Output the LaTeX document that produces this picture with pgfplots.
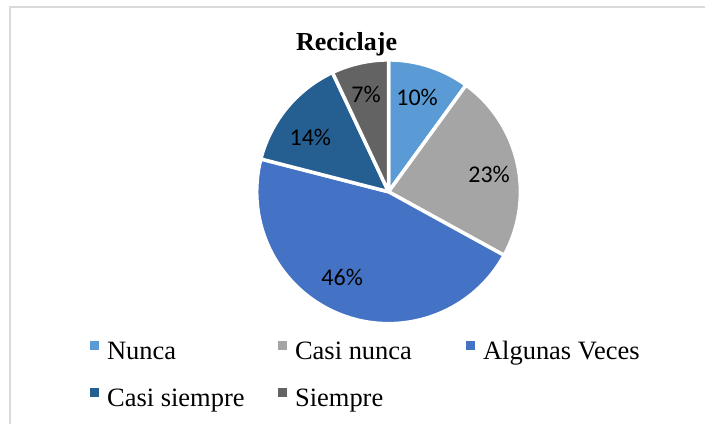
\documentclass[border=0pt]{standalone}
\usepackage{pgfplots}
\pgfplotsset{compat=1.18}
\usepackage{pgfplotstable}
\usetikzlibrary{calc}
\usepackage{fontspec}
\setmainfont{Liberation Serif}
\newfontfamily\labelfont{Carlito}
\definecolor{cNunca}{HTML}{5B9BD5}
\definecolor{cCasiNunca}{HTML}{A5A5A5}
\definecolor{cAlgunas}{HTML}{4472C4}
\definecolor{cCasiSiempre}{HTML}{255E91}
\definecolor{cSiempre}{HTML}{636363}
\definecolor{frame}{HTML}{D9D9D9}
% value = percentage; dx, dy = small label offsets (bp)
\pgfplotstableread[col sep=comma]{
cat,value,col,dx,dy
Nunca,10,cNunca,-2,0
Casi nunca,23,cCasiNunca,4,-4
Algunas Veces,46,cAlgunas,-10,6
Casi siempre,14,cCasiSiempre,-2,-9
Siempre,7,cSiempre,-1,1
}\piedata
\begin{document}
\begin{tikzpicture}
\def\cumval{0}
\begin{axis}[
  hide axis, scale only axis,
  width=706bp, height=424bp,
  xmin=0, xmax=706, ymin=0, ymax=424,
  clip=false,
  legend columns=3,
  legend cell align=left,
  legend image code/.code={\fill[#1, draw=none] (0bp,3bp) rectangle (9bp,12bp); \path (17bp,0bp);},
  legend style={draw=none, fill=none, inner sep=0pt, outer sep=0pt,
    font=\fontsize{26.5bp}{30bp}\selectfont,
    at={(axis description cs:0.1275,0.197)}, anchor=north west,
    column sep=0pt, row sep=21bp,
    nodes={inner sep=0pt, text height=19bp, text depth=7bp}},
]
\path (axis cs:0,0) (axis cs:706,424);
\draw[frame, line width=1.6bp] (axis cs:10,0) -- (axis cs:10,417) -- (axis cs:706,417);
\node[font=\fontsize{26bp}{30bp}\selectfont\bfseries, anchor=base] at (axis cs:347,373) {Reciclaje};
\pgfplotsforeachungrouped \i in {0,...,4}{%
  \pgfplotstablegetelem{\i}{value}\of\piedata
  \let\pval\pgfplotsretval
  \pgfplotstablegetelem{\i}{col}\of\piedata
  \let\pcol\pgfplotsretval
  \pgfplotstablegetelem{\i}{dx}\of\piedata
  \let\pdx\pgfplotsretval
  \pgfplotstablegetelem{\i}{dy}\of\piedata
  \let\pdy\pgfplotsretval
  \pgfmathsetmacro\sa{90-3.6*\cumval}%
  \pgfmathsetmacro\ea{\sa-3.6*\pval}%
  \pgfmathsetmacro\ma{(\sa+\ea)/2}%
  \pgfmathsetmacro\cumval{\cumval+\pval}%
  \edef\temp{%
    \noexpand\filldraw[fill=\pcol, draw=white, line width=3.5bp, line join=round]
      (axis cs:389,232) -- ++(\sa:132bp) arc[start angle=\sa, end angle=\ea, radius=132bp] -- cycle;
    \noexpand\node[font=\noexpand\labelfont\noexpand\fontsize{24bp}{28bp}\noexpand\selectfont, inner sep=0pt]
      at ($(axis cs:389,232)+(\ma:99bp)+(\pdx bp,\pdy bp)$) {\pval\noexpand\%};
  }%
  \temp
}
\addlegendimage{fill=cNunca}\addlegendentry{\makebox[171bp][l]{Nunca}}
\addlegendimage{fill=cCasiNunca}\addlegendentry{\makebox[171bp][l]{Casi nunca}}
\addlegendimage{fill=cAlgunas}\addlegendentry{\makebox[171bp][l]{Algunas Veces}}
\addlegendimage{fill=cCasiSiempre}\addlegendentry{\makebox[171bp][l]{Casi siempre}}
\addlegendimage{fill=cSiempre}\addlegendentry{\makebox[171bp][l]{Siempre}}
\end{axis}
\end{tikzpicture}
\end{document}
